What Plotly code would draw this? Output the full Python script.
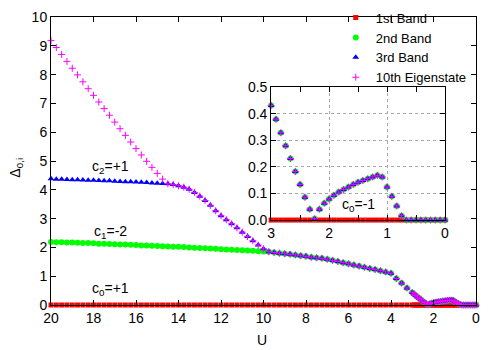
import plotly.graph_objects as go

# U grid: coarse part (step 0.25) and fine part below U = 3
u_coarse = [20.0, 19.75, 19.5, 19.25, 19.0, 18.75, 18.5, 18.25, 18.0, 17.75,
            17.5, 17.25, 17.0, 16.75, 16.5, 16.25, 16.0, 15.75, 15.5, 15.25,
            15.0, 14.75, 14.5, 14.25, 14.0, 13.75, 13.5, 13.25, 13.0, 12.75,
            12.5, 12.25, 12.0, 11.75, 11.5, 11.25, 11.0, 10.75, 10.5, 10.25,
            10.0, 9.75, 9.5, 9.25, 9.0, 8.75, 8.5, 8.25, 8.0, 7.75,
            7.5, 7.25, 7.0, 6.75, 6.5, 6.25, 6.0, 5.75, 5.5, 5.25,
            5.0, 4.75, 4.5, 4.25, 4.0, 3.75, 3.5, 3.25]
u_fine = [3.0, 2.917, 2.833, 2.75, 2.667, 2.583, 2.5, 2.417, 2.333, 2.25,
          2.167, 2.083, 2.0, 1.917, 1.833, 1.75, 1.667, 1.583, 1.5, 1.417,
          1.333, 1.25, 1.167, 1.083, 1.0, 0.917, 0.833, 0.75, 0.667, 0.583,
          0.5, 0.417, 0.333, 0.25, 0.167, 0.083, 0.0]

# 2nd band, U = 20 ... 10
second_high = [2.19, 2.18, 2.18, 2.17, 2.17, 2.16, 2.15, 2.15, 2.14, 2.13,
               2.13, 2.12, 2.11, 2.10, 2.10, 2.09, 2.08, 2.07, 2.07, 2.06,
               2.05, 2.04, 2.03, 2.02, 2.02, 2.01, 2.00, 1.99, 1.98, 1.97,
               1.96, 1.95, 1.94, 1.93, 1.92, 1.91, 1.90, 1.89, 1.88, 1.87,
               1.86]
# 3rd band, U = 20 ... 10
third_high = [4.38, 4.37, 4.37, 4.36, 4.35, 4.35, 4.34, 4.33, 4.33, 4.32,
              4.31, 4.31, 4.30, 4.29, 4.28, 4.28, 4.27, 4.26, 4.25, 4.24,
              4.23, 4.22, 4.21, 4.18, 4.14, 4.09, 4.02, 3.91, 3.78, 3.63,
              3.46, 3.27, 3.10, 2.96, 2.82, 2.68, 2.53, 2.38, 2.23, 2.08,
              1.95]
# 10th eigenstate, U = 20 ... 10 (joins the 3rd band from U = 14.5)
tenth_high = [9.18, 8.94, 8.70, 8.46, 8.22, 7.99, 7.75, 7.51, 7.28, 7.05,
              6.82, 6.59, 6.35, 6.12, 5.89, 5.66, 5.43, 5.21, 4.99, 4.78,
              4.57, 4.37, 4.21, 4.18, 4.14, 4.09, 4.02, 3.91, 3.78, 3.63,
              3.46, 3.27, 3.10, 2.96, 2.82, 2.68, 2.53, 2.38, 2.23, 2.08,
              1.95]
# bands 2, 3 and the 10th state coincide for U = 9.75 ... 3.25
shared_mid = [1.85, 1.82, 1.80, 1.78, 1.76, 1.74, 1.71, 1.69, 1.66, 1.64,
              1.62, 1.59, 1.55, 1.51, 1.47, 1.43, 1.39, 1.35, 1.31, 1.27,
              1.23, 1.19, 1.15, 1.10, 0.92, 0.76, 0.59]
# ... and for U = 3 ... 0 (the inset)
shared_low = [0.430, 0.379, 0.328, 0.279, 0.231, 0.182, 0.134, 0.086, 0.041, 0.005,
              0.041, 0.063, 0.079, 0.093, 0.105, 0.115, 0.124, 0.134, 0.142, 0.149,
              0.155, 0.162, 0.168, 0.162, 0.124, 0.089, 0.053, 0.016, 0.0, 0.0,
              0.0, 0.0, 0.0, 0.0, 0.0, 0.0, 0.0]

u_all = u_coarse + u_fine
first = [0.0] * len(u_all)
second = second_high + shared_mid + shared_low
third = third_high + shared_mid + shared_low
tenth = tenth_high + shared_mid + shared_low
first_low = [0.0] * len(u_fine)

series = [
    ("1st Band", first, first_low, dict(symbol="square", size=5, color="#ff0000")),
    ("2nd Band", second, shared_low, dict(symbol="circle", size=6, color="#00ff00")),
    ("3rd Band", third, shared_low, dict(symbol="triangle-up", size=6, color="#0000ff")),
    ("10th Eigenstate", tenth, shared_low,
     dict(symbol="cross-thin", size=5, color="#ff00ff",
          line=dict(width=1, color="#ff00ff"))),
]

fig = go.Figure()

for name, values, low_values, marker in series:
    fig.add_trace(
        go.Scatter(
            x=u_all, y=values, mode="markers", name=name,
            marker=marker, cliponaxis=False,
        )
    )
for name, values, low_values, marker in series:
    fig.add_trace(
        go.Scatter(
            x=u_fine, y=low_values, mode="markers", name=name,
            marker=marker, cliponaxis=False, showlegend=False,
            xaxis="x2", yaxis="y2",
        )
    )

axis_style = dict(
    showline=True, linecolor="black", linewidth=1, mirror="ticks",
    ticks="inside", ticklen=5, tickcolor="black", zeroline=False,
    showgrid=False, tickfont=dict(size=14, color="black"),
)

# the page body has an 8px margin, so the figure is 8px smaller and shifted
fig.update_layout(
    width=492, height=342,
    margin=dict(l=43, r=24, t=9, b=45, autoexpand=False),
    paper_bgcolor="white", plot_bgcolor="white",
    font=dict(family="Liberation Sans, Arial, sans-serif", size=14, color="black"),
    xaxis=dict(range=[20, 0], dtick=2, domain=[0, 1], **axis_style),
    yaxis=dict(range=[0, 10], dtick=1, domain=[0, 1], **axis_style),
    xaxis2=dict(
        range=[3, 0], dtick=1, domain=[0.518, 0.927], anchor="y2",
        minor=dict(dtick=0.5, ticks="inside", ticklen=5, tickcolor="black"),
        **{**axis_style, "showgrid": True},
        gridcolor="#a8a8a8", griddash="dot", gridwidth=1,
    ),
    yaxis2=dict(
        range=[0, 0.5], dtick=0.1, tickformat=".1f", domain=[0.295, 0.757],
        anchor="x2",
        **{**axis_style, "showgrid": True},
        gridcolor="#a8a8a8", griddash="dot", gridwidth=1,
    ),
    legend=dict(
        x=0.99, y=1.05, xanchor="right", yanchor="top",
        bgcolor="rgba(0,0,0,0)", font=dict(size=13),
        tracegroupgap=0,
    ),
    showlegend=True,
)

annotations = [
    dict(text="U", xref="paper", yref="paper", x=0.496, y=-0.1215,
         xanchor="center", yanchor="middle", showarrow=False),
    dict(text="Δ<sub>0,i</sub>", xref="paper", yref="paper", x=-0.083, y=0.476,
         xanchor="center", yanchor="middle", textangle=-90, showarrow=False),
    dict(text="c<sub>2</sub>=+1", xref="x", yref="y", x=17.2, y=4.78,
         showarrow=False),
    dict(text="c<sub>1</sub>=-2", xref="x", yref="y", x=17.2, y=2.55,
         showarrow=False),
    dict(text="c<sub>0</sub>=+1", xref="x", yref="y", x=17.2, y=0.55,
         showarrow=False),
    dict(text="c<sub>0</sub>=-1", xref="x2", yref="y2", x=1.5, y=0.055,
         showarrow=False),
]
fig.update_layout(annotations=annotations)

fig.write_html("out.html")
